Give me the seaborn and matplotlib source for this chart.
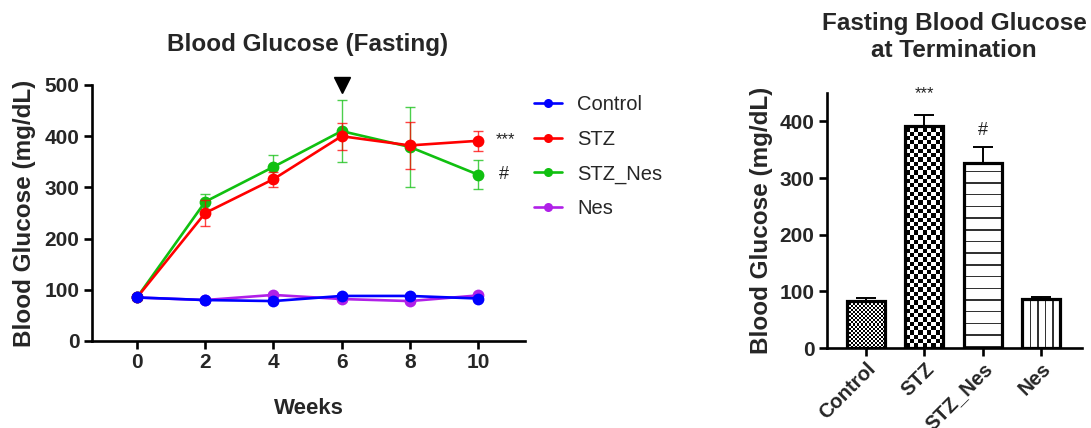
import numpy as np
import pandas as pd
import matplotlib
matplotlib.use("Agg")
import matplotlib.pyplot as plt
import seaborn as sns
from matplotlib.lines import Line2D

# ---- time course data (mean ± SEM, mg/dL) ----
weeks = [0, 2, 4, 6, 8, 10]
groups = ["Control", "STZ", "STZ_Nes", "Nes"]
control_mean = [85, 80, 78, 88, 88, 83]
control_sem = [3, 3, 3, 3, 3, 3]
stz_mean = [85, 250, 316, 400, 382, 391]
stz_sem = [4, 25, 15, 26, 46, 19]
stznes_mean = [85, 272, 340, 410, 379, 325]
stznes_sem = [4, 15, 24, 60, 78, 28]
nes_mean = [85, 80, 90, 82, 78, 89]
nes_sem = [3, 3, 3, 3, 3, 3]

# ---- termination data ----
term_groups = ["Control", "STZ", "STZ_Nes", "Nes"]
term_mean = [83, 392, 326, 86]
term_sem = [5, 20, 29, 4]

colors = {"Control": "#0000FF", "STZ": "#FF0000", "STZ_Nes": "#10C010", "Nes": "#B020E8"}

sns.set_theme(style="white")
plt.rcParams["font.family"] = ["Liberation Sans", "DejaVu Sans"]

W, H = 1091, 428
fig = plt.figure(figsize=(W / 100, H / 100), dpi=100)

def px_axes(left, right, top, bottom):
    return fig.add_axes([left / W, (H - bottom) / H, (right - left) / W, (bottom - top) / H])

ax1 = px_axes(92, 525, 85, 341)
ax2 = px_axes(827, 1082, 93, 348)

# ---- left: line chart ----
means = {"Control": control_mean, "STZ": stz_mean, "STZ_Nes": stznes_mean, "Nes": nes_mean}
sems = {"Control": control_sem, "STZ": stz_sem, "STZ_Nes": stznes_sem, "Nes": nes_sem}
df = pd.DataFrame(
    [(w, g, m) for g in groups for w, m in zip(weeks, means[g])],
    columns=["Weeks", "Group", "Glucose"],
)
draw_order = ["Nes", "STZ_Nes", "STZ", "Control"]
for i, g in enumerate(draw_order):
    sub = df[df.Group == g]
    ax1.errorbar(sub.Weeks, sub.Glucose, yerr=sems[g], fmt="none", ecolor=colors[g],
                 elinewidth=1.0, capsize=3.8, capthick=1.0, zorder=2 + i, alpha=0.75)
    sns.lineplot(data=sub, x="Weeks", y="Glucose", color=colors[g], marker="o",
                 markersize=8.5, markeredgewidth=0, linewidth=1.9, ax=ax1, zorder=3 + i,
                 legend=False)

ax1.set_xlim(-1.32, 11.38)
ax1.set_ylim(0, 500)
ax1.set_xticks(weeks)
ax1.set_yticks([0, 100, 200, 300, 400, 500])
ax1.set_xlabel("Weeks", fontsize=16, fontweight="bold", labelpad=18)
ax1.set_ylabel("Blood Glucose (mg/dL)", fontsize=17.5, fontweight="bold", labelpad=6)

# arrowhead marking week 6
ax1.plot([6], [500], marker="v", markersize=12, color="black", clip_on=False, zorder=10)
ax1.text(10.8, 393, "***", fontsize=12, ha="center", va="center", color="#222222")
ax1.text(10.75, 326, "#", fontsize=13, ha="center", va="center", color="#222222")

handles = [Line2D([0], [0], color=colors[g], marker="o", markersize=6.5, linewidth=1.9,
                  markeredgewidth=0) for g in groups]
fig.legend(handles, groups, loc="upper left", bbox_to_anchor=(524 / W, 1 - 85 / H),
           frameon=False, fontsize=14.5, handlelength=1.4, handletextpad=0.75,
           labelspacing=0.78, borderpad=0)

# ---- right: bar chart ----
sns.barplot(x=term_groups, y=term_mean, color="white", edgecolor="black",
            linewidth=2.3, width=0.65, ax=ax2, zorder=3)
bars = list(ax2.patches)
for b in bars:
    b.set_facecolor("none")
    b.set_zorder(4)
ax2.errorbar(range(len(term_groups)), term_mean, yerr=[np.zeros(4), term_sem], fmt="none",
             ecolor="black", elinewidth=1.4, capsize=7, capthick=1.4, zorder=1)
ax2.set_xlim(-0.67, 3.7)
ax2.set_ylim(0, 450)
ax2.set_yticks([0, 100, 200, 300, 400])
ax2.set_ylabel("Blood Glucose (mg/dL)", fontsize=17.5, fontweight="bold", labelpad=5)
ax2.text(1, 449, "***", fontsize=12, ha="center", va="center", color="#222222")
ax2.text(2, 384, "#", fontsize=13, ha="center", va="center", color="#222222")

for ax in (ax1, ax2):
    sns.despine(ax=ax)
    for s in ("left", "bottom"):
        ax.spines[s].set_linewidth(1.9)
        ax.spines[s].set_color("black")
    ax.tick_params(axis="both", direction="out", length=6, width=1.9, color="black",
                   labelsize=15, pad=3, bottom=True, left=True)
    for lab in ax.get_xticklabels() + ax.get_yticklabels():
        lab.set_fontweight("bold")
ax2.tick_params(axis="x", pad=2, labelsize=14.5)
plt.setp(ax2.get_xticklabels(), rotation=45, ha="right", rotation_mode="anchor")

# ---- fill patterns clipped to each bar ----
fig.canvas.draw()
def pattern(kind, h, w):
    yy, xx = np.mgrid[0:h, 0:w]
    img = np.ones((h, w))
    if kind == "fine":
        img[((yy // 2) + (xx // 2)) % 2 == 0] = 0
    elif kind == "coarse":
        img[((yy // 4.3).astype(int) + (xx // 4.3).astype(int)) % 2 == 0] = 0
    elif kind == "hlines":
        img[(yy % 11.7) < 1.5] = 0.2
    elif kind == "vlines":
        img[(xx % 7.5) < 1.5] = 0.2
    return img

kinds = ["fine", "coarse", "hlines", "vlines"]
for b, kind in zip(bars, kinds):
    x0, y0 = b.get_x(), b.get_y()
    x1, y1 = x0 + b.get_width(), y0 + b.get_height()
    (dx0, dy0), (dx1, dy1) = ax2.transData.transform([(x0, y0), (x1, y1)])
    h = max(int(round(dy1 - dy0)), 1)
    w = max(int(round(dx1 - dx0)), 1)
    img = pattern(kind, h, w)
    im = ax2.imshow(img, cmap="gray", vmin=0, vmax=1, extent=(x0, x1, y0, y1),
                    origin="lower", interpolation="nearest", aspect="auto", zorder=3)
    im.set_clip_path(b)
ax2.set_xlim(-0.67, 3.7)
ax2.set_ylim(0, 450)

# ---- titles ----
fig.text(308 / W, 1 - 45 / H, "Blood Glucose (Fasting)", fontsize=17.5, fontweight="bold",
         ha="center", va="center")
fig.text(954 / W, 1 - 37 / H, "Fasting Blood Glucose\nat Termination", fontsize=17.5,
         fontweight="bold", ha="center", va="center", linespacing=1.22)

fig.savefig("out.png", dpi=100, facecolor="white")
